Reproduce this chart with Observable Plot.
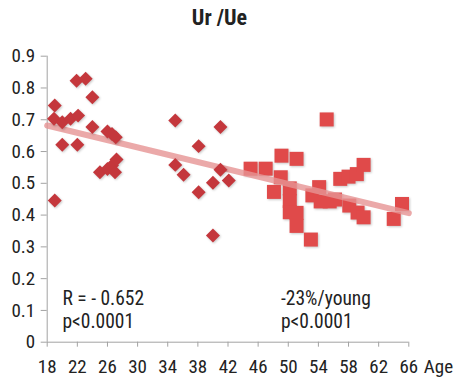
<!DOCTYPE html>
<html>
<head>
<meta charset="utf-8">
<script src="https://cdn.jsdelivr.net/npm/d3@7"></script>
<script src="https://cdn.jsdelivr.net/npm/@observablehq/plot@0.6"></script>
<style>
  body { margin: 0; background: #fff; }
  #chart { width: 457px; font-family: "Liberation Sans Narrow", "Arial Narrow", "Roboto Condensed", Roboto, sans-serif; color: #222; }
  #title { height: 31px; padding-top: 7px; padding-right: 18px; text-align: center; font-weight: bold; font-size: 22px; line-height: 22px; }
  #chart svg { display: block; overflow: visible; }
</style>
</head>
<body>
<div id="chart">
  <div id="title">Ur /Ue</div>
</div>
<script>
// Subjects aged 18–42 (diamonds)
const youngAge = [19.0, 18.9, 20.0, 21.1, 22.1, 21.9, 23.1, 24.0, 24.0, 26.0, 26.6, 27.1, 20.0, 22.0, 19.0,
                  25.0, 26.0, 26.6, 27.2, 27.0, 35.0, 41.0, 38.1, 35.0, 36.1, 41.0, 40.0, 42.1, 38.1, 40.0];
const youngRatio = [0.745, 0.703, 0.692, 0.703, 0.713, 0.823, 0.829, 0.771, 0.677, 0.663, 0.655, 0.645, 0.621, 0.621, 0.446,
                    0.535, 0.545, 0.556, 0.575, 0.535, 0.698, 0.677, 0.617, 0.558, 0.527, 0.543, 0.502, 0.509, 0.472, 0.336];

// Subjects aged 45–66 (squares)
const olderAge = [45.0, 47.0, 49.1, 51.1, 49.0, 48.1, 50.2, 50.2, 50.2, 51.1, 51.1, 53.0, 54.1, 53.2,
                  54.3, 55.5, 56.2, 56.9, 58.0, 59.1, 60.0, 58.1, 59.2, 60.0, 64.0, 65.1, 55.1];
const olderRatio = [0.546, 0.546, 0.587, 0.577, 0.519, 0.473, 0.484, 0.444, 0.409, 0.407, 0.366, 0.323, 0.488, 0.462,
                    0.443, 0.443, 0.449, 0.514, 0.521, 0.529, 0.558, 0.430, 0.408, 0.393, 0.388, 0.435, 0.701];

// Linear trend across the whole age range
const trendAge = [18, 66];
const trendRatio = [0.682, 0.406];

// Axis ticks and annotation text
const xTicks = [18, 22, 26, 30, 34, 38, 42, 46, 50, 54, 58, 62, 66];
const yTicks = [0, 0.1, 0.2, 0.3, 0.4, 0.5, 0.6, 0.7, 0.8, 0.9];
const statsLeft = ["R = - 0.652\np<0.0001"];
const statsRight = ["-23%/young\np<0.0001"];
const xLabel = ["Age"];

const young = youngAge.map((a, i) => ({age: a, ratio: youngRatio[i]}));
const older = olderAge.map((a, i) => ({age: a, ratio: olderRatio[i]}));
const trend = trendAge.map((a, i) => ({age: a, ratio: trendRatio[i]}));

const axisGray = "#a3a3a3";

const plot = Plot.plot({
  width: 457,
  height: 342,
  marginLeft: 46.7,
  marginRight: 48.7,
  marginTop: 17.7,
  marginBottom: 38.3,
  style: {
    fontFamily: '"Liberation Sans Narrow", "Arial Narrow", "Roboto Condensed", Roboto, sans-serif',
    fontSize: "19px",
    color: "#222",
    background: "#fff"
  },
  x: {domain: [18, 66]},
  y: {domain: [0, 0.9]},
  marks: [
    Plot.axisY({ticks: yTicks, tickSize: 6, tickPadding: 6, stroke: axisGray, fill: "#222", label: null,
                tickFormat: d => d === 0 ? "0" : d.toFixed(1)}),
    Plot.axisX({ticks: xTicks, tickSize: 5, tickPadding: 12, stroke: axisGray, fill: "#222", label: null}),
    Plot.ruleX([18], {stroke: axisGray}),
    Plot.ruleY([0], {stroke: axisGray}),
    Plot.dot(older, {x: "age", y: "ratio", symbol: "square", r: 7.9, fill: "#e04a4a", stroke: null}),
    Plot.line(trend, {x: "age", y: "ratio", stroke: "#e69494", strokeOpacity: 0.8, strokeWidth: 6}),
    Plot.dot(young, {x: "age", y: "ratio", symbol: "diamond2", r: 6.3, fill: "#c4373c", stroke: null}),
    Plot.text(statsLeft, {frameAnchor: "bottom-left", dx: 15.3, dy: -14.7, lineAnchor: "bottom",
                          textAnchor: "start", lineHeight: 1.13, fontSize: 19.5, fill: "#222"}),
    Plot.text(statsRight, {frameAnchor: "bottom-left", dx: 233.8, dy: -14.7, lineAnchor: "bottom",
                           textAnchor: "start", lineHeight: 1.13, fontSize: 19.5, fill: "#222"}),
    Plot.text(xLabel, {frameAnchor: "bottom-right", dx: 15, dy: 17.3, lineAnchor: "top",
                       textAnchor: "start", fill: "#222"})
  ]
});

d3.select(plot).selectAll('g[aria-label="dot"]')
  .style("filter", "drop-shadow(1px 1.5px 1px rgba(0,0,0,0.22))");

document.getElementById("chart").appendChild(plot);
</script>
</body>
</html>
